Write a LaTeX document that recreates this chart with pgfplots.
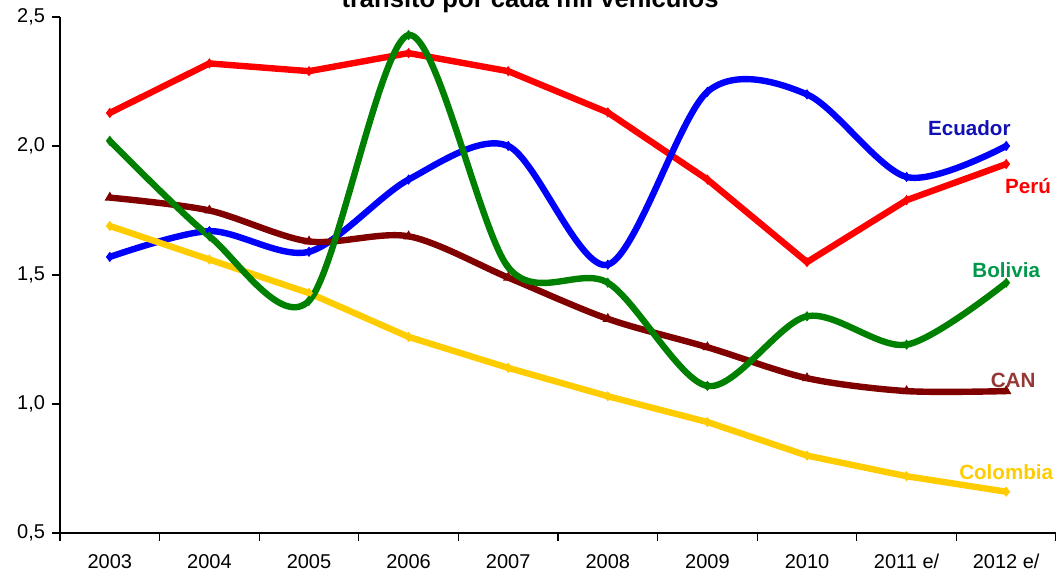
\documentclass[border=0pt]{standalone}
\usepackage{pgfplots}
\pgfplotsset{compat=1.18}
\usepackage{fontspec}
\setmainfont{Liberation Sans}
\definecolor{cEc}{HTML}{0000FF}
\definecolor{cEcL}{HTML}{1010B4}
\definecolor{cPe}{HTML}{FF0000}
\definecolor{cBo}{HTML}{008000}
\definecolor{cBoL}{HTML}{00994C}
\definecolor{cCa}{HTML}{800000}
\definecolor{cCaL}{HTML}{953735}
\definecolor{cCo}{HTML}{FFCC00}
\begin{document}
\begin{tikzpicture}
\begin{axis}[
  at={(0,0)}, anchor=south west,
  scale only axis, width=498pt, height=258pt,
  xmin=-0.5, xmax=9.5, ymin=0.5, ymax=2.5,
  axis lines=left, axis line style={-, line width=0.6pt},
  xtick={-0.5,0.5,...,9.5},
  x tick label as interval,
  xticklabels={2003,2004,2005,2006,2007,2008,2009,2010,2011 e/,2012 e/},
  ytick={0.5,1.0,1.5,2.0,2.5},
  tick align=outside, tick style={black, line width=0.6pt},
  major tick length=4pt,
  yticklabel style={/pgf/number format/.cd, fixed, fixed zerofill, precision=1, use comma, assume math mode=true},
  ticklabel style={font=\fontsize{10}{12}\selectfont},
  xticklabel style={yshift=-3pt},
  clip=false,
  every axis plot/.append style={line width=3.2pt, mark options={solid, line width=0.5pt}},
]
% Peru
\addplot[cPe, mark=diamond*, mark size=2.2pt] coordinates {
(0,2.128) (1,2.32) (2,2.29) (3,2.36) (4,2.29) (5,2.13) (6,1.87) (7,1.55) (8,1.79) (9,1.93)};
% Ecuador
\addplot[cEc, smooth, tension=0.5, mark=diamond*, mark size=2.2pt] coordinates {
(0,1.57) (1,1.67) (2,1.59) (3,1.87) (4,2.0) (5,1.54) (6,2.21) (7,2.20) (8,1.88) (9,2.0)};
% Colombia
\addplot[cCo, mark=diamond*, mark size=2.2pt] coordinates {
(0,1.69) (1,1.56) (2,1.43) (3,1.26) (4,1.14) (5,1.03) (6,0.93) (7,0.80) (8,0.72) (9,0.66)};
% CAN
\addplot[cCa, smooth, tension=0.5, mark=triangle*, mark size=2.5pt] coordinates {
(0,1.80) (1,1.75) (2,1.63) (3,1.65) (4,1.49) (5,1.33) (6,1.22) (7,1.10) (8,1.05) (9,1.05)};
% Bolivia
\addplot[cBo, smooth, tension=0.5, mark=diamond*, mark size=2.2pt] coordinates {
(0,2.02) (1,1.65) (2,1.40) (3,2.43) (4,1.53) (5,1.47) (6,1.07) (7,1.34) (8,1.23) (9,1.47)};
\node[font=\bfseries\fontsize{10.3}{12}\selectfont, text=cEcL] at (axis cs:8.63,2.07) {Ecuador};
\node[font=\bfseries\fontsize{10.3}{12}\selectfont, text=cPe] at (axis cs:9.22,1.845) {Perú};
\node[font=\bfseries\fontsize{10.3}{12}\selectfont, text=cBoL] at (axis cs:9.0,1.52) {Bolivia};
\node[font=\bfseries\fontsize{10.3}{12}\selectfont, text=cCaL] at (axis cs:9.07,1.093) {CAN};
\node[font=\bfseries\fontsize{10.3}{12}\selectfont, text=cCo] at (axis cs:9.0,0.736) {Colombia};
\end{axis}
\node[anchor=base, font=\bfseries\fontsize{12.8}{15}\selectfont, inner sep=0pt] at (235pt,262.5pt) {tránsito por cada mil vehículos};
\pgfresetboundingbox
\path[use as bounding box] (-30pt,-19pt) rectangle (498pt,266.5pt);
\end{tikzpicture}
\end{document}
